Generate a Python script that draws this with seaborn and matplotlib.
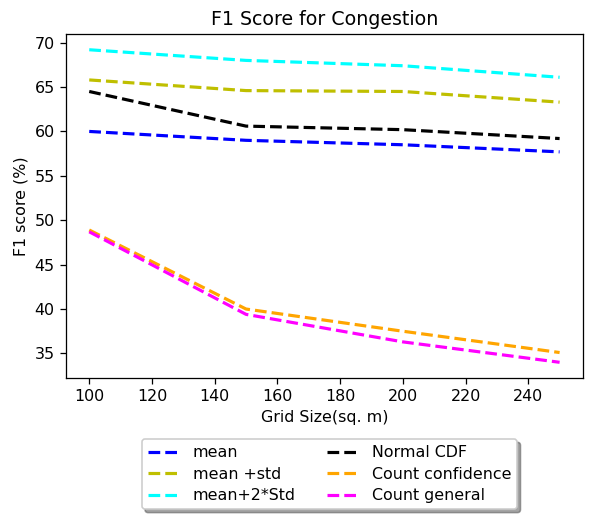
import matplotlib
matplotlib.use("Agg")
import matplotlib.pyplot as plt
import seaborn as sns
import pandas as pd

grid_sizes = [100, 150, 200, 250]
mean_vals = [60.0, 59.0, 58.5, 57.7]
mean_std_vals = [65.8, 64.6, 64.5, 63.3]
mean_2std_vals = [69.2, 68.0, 67.4, 66.1]
normal_cdf_vals = [64.5, 60.6, 60.2, 59.2]
count_conf_vals = [48.9, 40.0, 37.5, 35.1]
count_gen_vals = [48.7, 39.4, 36.3, 34.0]

series_names = ["mean", "mean +std", "mean+2*Std", "Normal CDF",
                "Count confidence", "Count general"]
series_vals = [mean_vals, mean_std_vals, mean_2std_vals, normal_cdf_vals,
               count_conf_vals, count_gen_vals]
colors = ["blue", "y", "cyan", "black", "orange", "magenta"]

rows = []
for name, vals in zip(series_names, series_vals):
    for x, v in zip(grid_sizes, vals):
        rows.append({"Grid": x, "F1": v, "Series": name})
df = pd.DataFrame(rows)

DPI = 114
fig = plt.figure(figsize=(592 / DPI, 517 / DPI), dpi=DPI)
ax = fig.add_axes([0.111, 0.269, 0.874, 0.665])
for name, c in zip(series_names, colors):
    sub = df[df["Series"] == name]
    sns.lineplot(data=sub, x="Grid", y="F1", ax=ax, color=c, linestyle="--",
                 linewidth=2, label=name)

ax.set_title("F1 Score for Congestion", fontsize=12)
ax.set_xlabel("Grid Size(sq. m)")
ax.set_ylabel("F1 score (%)")
ax.set_xticks([100, 120, 140, 160, 180, 200, 220, 240])
ax.set_yticks([35, 40, 45, 50, 55, 60, 65, 70])
ax.legend(loc="upper center", bbox_to_anchor=(0.51, -0.155), ncol=2,
          shadow=True, fancybox=True, labelspacing=0.4)
fig.savefig("out.png", dpi=DPI)
